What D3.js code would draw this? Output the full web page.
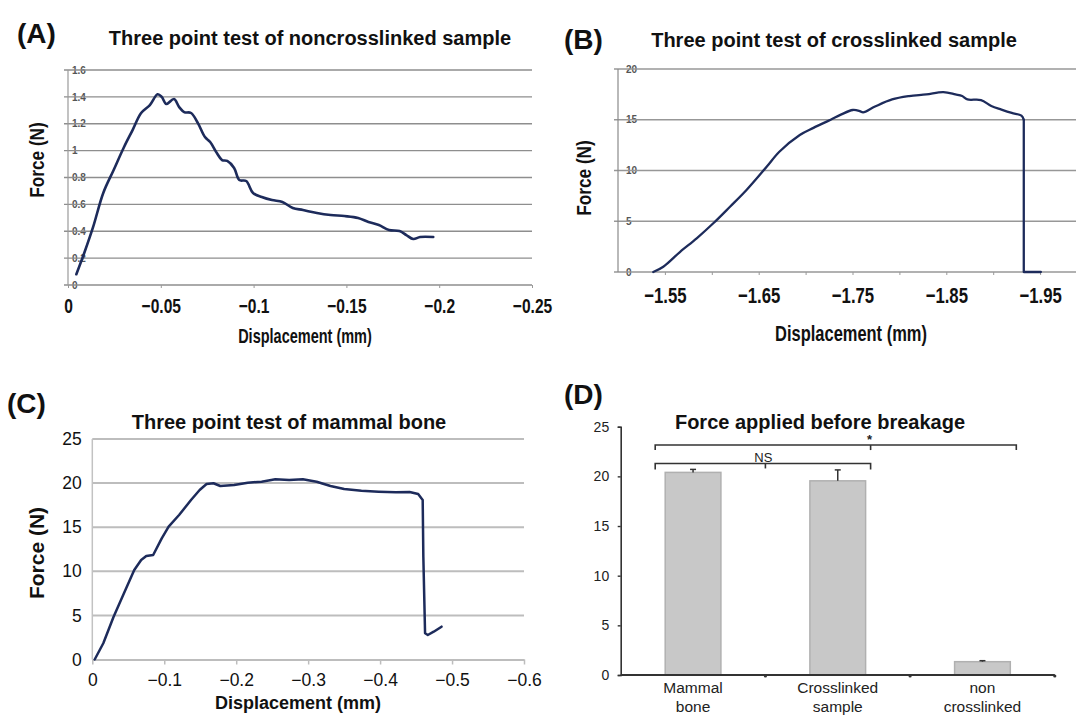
<!DOCTYPE html>
<html>
<head>
<meta charset="utf-8">
<script src="https://cdn.jsdelivr.net/npm/d3@7"></script>
<style>
  body { margin: 0; background: #fff; }
  svg { display: block; }
  text { font-family: "Liberation Sans", Arial, sans-serif; }
</style>
</head>
<body>
<div id="chart"></div>
<script>
// (A) noncrosslinked sample
const aDisp = [-0.0045,-0.0088,-0.0135,-0.019,-0.0246,-0.0302,-0.0348,-0.0394,-0.0441,-0.0483,-0.0505,-0.053,-0.0571,-0.0599,-0.0626,-0.0663,-0.07,-0.0738,-0.0766,-0.0802,-0.083,-0.0858,-0.0895,-0.0923,-0.096,-0.0997,-0.1044,-0.1099,-0.1155,-0.1211,-0.1266,-0.1341,-0.1415,-0.1489,-0.1563,-0.1619,-0.1675,-0.173,-0.1786,-0.1823,-0.186,-0.1897,-0.1968];
const aForce = [0.08,0.24,0.43,0.685,0.856,1.027,1.153,1.28,1.339,1.419,1.40,1.347,1.384,1.324,1.287,1.280,1.205,1.101,1.064,0.982,0.930,0.923,0.871,0.781,0.774,0.685,0.655,0.632,0.618,0.573,0.558,0.536,0.521,0.513,0.499,0.469,0.446,0.409,0.402,0.372,0.342,0.357,0.357];
const aYTicks = [0, 0.2, 0.4, 0.6, 0.8, 1, 1.2, 1.4, 1.6];
const aXTicks = [0, -0.05, -0.1, -0.15, -0.2, -0.25];

// (B) crosslinked sample
const bDisp = [-1.5376,-1.5483,-1.566,-1.5839,-1.6016,-1.6194,-1.637,-1.6585,-1.672,-1.6938,-1.7084,-1.7267,-1.7376,-1.7503,-1.7577,-1.7613,-1.774,-1.7922,-1.8104,-1.8287,-1.8469,-1.8597,-1.8669,-1.8725,-1.887,-1.898,-1.9088,-1.9198,-1.9301,-1.9326,-1.9326,-1.9508];
const bForce = [0,0.52,1.97,3.32,4.8,6.43,8.08,10.37,11.85,13.5,14.2,15.0,15.5,15.96,15.86,15.73,16.3,17.0,17.33,17.5,17.73,17.5,17.34,17.0,16.94,16.35,16.0,15.67,15.4,15.0,0,0];
const bYTicks = [0, 5, 10, 15, 20];
const bXTicks = [-1.55,-1.6,-1.65,-1.7,-1.75,-1.8,-1.85,-1.9,-1.95];
const bXLabels = [-1.55,-1.65,-1.75,-1.85,-1.95];

// (C) mammal bone
const cDisp = [-0.0033,-0.0153,-0.0296,-0.044,-0.0583,-0.0679,-0.075,-0.0846,-0.0965,-0.1061,-0.1206,-0.1372,-0.1492,-0.1588,-0.1684,-0.1779,-0.1971,-0.2161,-0.2353,-0.2544,-0.2736,-0.2926,-0.3118,-0.331,-0.3501,-0.374,-0.3979,-0.4218,-0.441,-0.4529,-0.4592,-0.4601,-0.4625,-0.4663,-0.4745,-0.4854];
const cForce = [0,1.84,4.85,7.5,10.15,11.28,11.73,11.85,13.74,15.06,16.38,18.08,19.22,19.9,19.98,19.67,19.78,20.05,20.16,20.43,20.35,20.43,20.16,19.67,19.33,19.14,19.03,18.96,18.99,18.76,18.08,11.66,2.97,2.78,3.15,3.72];
const cYTicks = [0, 5, 10, 15, 20, 25];
const cXTicks = [0, -0.1, -0.2, -0.3, -0.4, -0.5, -0.6];

// (D) force before breakage
const dCategories = ["Mammal bone", "Crosslinked sample", "non crosslinked"];
const dMeans = [20.4, 19.55, 1.34];
const dErrors = [0.3, 1.1, 0.1];
const dYTicks = [0, 5, 10, 15, 20, 25];

const lineColor = "#1d2b5b";
const negFmt = d => d === 0 ? "0" : "\u2212" + (+Math.abs(d).toFixed(2));

const svg = d3.select("#chart").append("svg")
    .attr("width", 1076)
    .attr("height", 715)
    .style("background", "#fff");

// squeeze text horizontally to imitate a narrow typeface
function condense(sel, f) {
    sel.each(function() {
        const len = this.getComputedTextLength();
        if (len > 0) {
            d3.select(this).attr("textLength", len * f).attr("lengthAdjust", "spacingAndGlyphs");
        }
    });
}

function addText(txt, x, y, size, opts = {}) {
    const t = svg.append("text")
        .attr("x", x)
        .attr("y", y)
        .attr("text-anchor", opts.anchor || "middle")
        .style("font-size", size + "px")
        .style("font-weight", opts.weight || "bold")
        .attr("fill", opts.fill || "#111")
        .text(txt);
    if (opts.rotate) t.attr("transform", `rotate(-90,${x},${y})`);
    if (opts.narrow) condense(t, opts.narrow);
    return t;
}

function drawCurve(pts, x, y, w, curve) {
    svg.append("path")
        .datum(pts)
        .attr("fill", "none")
        .attr("stroke", lineColor)
        .attr("stroke-width", w)
        .attr("stroke-linejoin", "round")
        .attr("stroke-linecap", "round")
        .attr("d", d3.line().x(d => x(d[0])).y(d => y(d[1])).curve(curve));
}

function gridLines(ticks, x0, x1, y, color, w) {
    svg.append("g").selectAll("line").data(ticks).join("line")
        .attr("x1", x0).attr("x2", x1)
        .attr("y1", d => y(d)).attr("y2", d => y(d))
        .attr("stroke", color).attr("stroke-width", w);
}

// ---------- Panel A ----------
{
    const x = d3.scaleLinear().domain([0, -0.25]).range([68, 532]);
    const y = d3.scaleLinear().domain([0, 1.6]).range([285, 70]);

    const yAx = svg.append("g").attr("transform", "translate(68,0)")
        .call(d3.axisRight(y).tickValues(aYTicks).tickSize(0).tickPadding(4).tickFormat(d => String(+d.toFixed(1))));
    yAx.select(".domain").remove();
    yAx.selectAll("text").style("font-size", "10px").style("font-weight", "bold").attr("fill", "#555");

    gridLines(aYTicks, 64, 532, y, "#8e8e8e", 1.4);
    svg.append("line").attr("x1", 68).attr("x2", 68).attr("y1", 70).attr("y2", 285)
        .attr("stroke", "#9a9a9a").attr("stroke-width", 1.2);

    const xAx = svg.append("g").attr("transform", "translate(0,285)")
        .call(d3.axisBottom(x).tickValues(aXTicks).tickSize(3).tickPadding(10).tickFormat(negFmt));
    xAx.select(".domain").remove();
    xAx.selectAll("line").attr("stroke", "#999");
    xAx.selectAll("text").style("font-size", "20.5px").style("font-weight", "bold").attr("fill", "#111");
    condense(xAx.selectAll("text"), 0.76);

    drawCurve(aDisp.map((d, i) => [d, aForce[i]]), x, y, 2.6, d3.curveCatmullRom.alpha(0.5));

    addText("(A)", 17, 43, 28, { anchor: "start" });
    addText("Three point test of noncrosslinked sample", 310, 45, 20);
    addText("Force (N)", 44, 160, 21, { rotate: true, narrow: 0.82 });
    addText("Displacement (mm)", 305, 342.5, 21, { narrow: 0.69 });
}

// ---------- Panel B ----------
{
    const x = d3.scaleLinear().domain([-1.5, -2.0]).range([618, 1087]);
    const y = d3.scaleLinear().domain([0, 20]).range([272, 69]);

    const yAx = svg.append("g").attr("transform", "translate(618,0)")
        .call(d3.axisRight(y).tickValues(bYTicks).tickSize(0).tickPadding(8));
    yAx.select(".domain").remove();
    yAx.selectAll("text").style("font-size", "10px").style("font-weight", "bold").attr("fill", "#555");

    gridLines(bYTicks, 614, 1076, y, "#979797", 1.4);
    svg.append("line").attr("x1", 618).attr("x2", 618).attr("y1", 69).attr("y2", 272)
        .attr("stroke", "#8a8a8a").attr("stroke-width", 1.2);

    const labelSet = new Set(bXLabels.map(d => Math.round(d * 100)));
    const xAx = svg.append("g").attr("transform", "translate(0,272)")
        .call(d3.axisBottom(x).tickValues(bXTicks).tickSize(3).tickPadding(12)
            .tickFormat(d => labelSet.has(Math.round(d * 100)) ? negFmt(d) : ""));
    xAx.select(".domain").remove();
    xAx.selectAll("line").attr("stroke", "#999");
    xAx.selectAll("text").style("font-size", "22px").style("font-weight", "bold").attr("fill", "#111");
    condense(xAx.selectAll("text"), 0.76);

    // smooth loading part, straight drop at failure
    const pts = bDisp.map((d, i) => [d, bForce[i]]);
    const failAt = bForce.indexOf(0, 1);
    drawCurve(pts.slice(0, failAt), x, y, 2.3, d3.curveCatmullRom.alpha(0.5));
    drawCurve(pts.slice(failAt - 1), x, y, 2.3, d3.curveLinear);

    addText("(B)", 564, 49, 28, { anchor: "start" });
    addText("Three point test of crosslinked sample", 834, 47, 20);
    addText("Force (N)", 591, 178, 21, { rotate: true, narrow: 0.82 });
    addText("Displacement (mm)", 851, 341, 22, { narrow: 0.748 });
}

// ---------- Panel C ----------
{
    const x = d3.scaleLinear().domain([0, -0.6]).range([92.3, 524]);
    const y = d3.scaleLinear().domain([0, 25]).range([659.5, 439]);

    gridLines(cYTicks.filter(d => d > 0), 92.3, 524, y, "#bdbdbd", 2);
    svg.append("line").attr("x1", 92.3).attr("x2", 92.3).attr("y1", 439).attr("y2", 659.5)
        .attr("stroke", "#c2c2c2").attr("stroke-width", 1.5);

    const yAx = svg.append("g").attr("transform", "translate(92.3,0)")
        .call(d3.axisLeft(y).tickValues(cYTicks).tickSize(0).tickPadding(10.5));
    yAx.select(".domain").remove();
    yAx.selectAll("text").style("font-size", "17.5px").attr("fill", "#111");

    const xAx = svg.append("g").attr("transform", "translate(0,659.5)")
        .call(d3.axisBottom(x).tickValues(cXTicks).tickSize(5).tickPadding(9.5).tickSizeOuter(0).tickFormat(negFmt));
    xAx.select(".domain").attr("stroke", "#bdbdbd").attr("stroke-width", 2);
    xAx.selectAll("line").attr("stroke", "#bdbdbd").attr("stroke-width", 1.5);
    xAx.selectAll("text").style("font-size", "17.5px").attr("fill", "#111");

    drawCurve(cDisp.map((d, i) => [d, cForce[i]]), x, y, 2.5, d3.curveLinear);

    addText("(C)", 7, 413, 28, { anchor: "start" });
    addText("Three point test of mammal bone", 289, 429, 20);
    addText("Force (N)", 44, 553, 21, { rotate: true });
    addText("Displacement (mm)", 298, 709, 18);
}

// ---------- Panel D ----------
{
    const x = d3.scaleBand().domain(dCategories).range([620.7, 1054.8])
        .paddingInner(0.615).paddingOuter(0.3075);
    const y = d3.scaleLinear().domain([0, 25]).range([675, 426.7]);
    const bw = x.bandwidth();
    const gap = x.step() - bw;

    const yAx = svg.append("g").attr("transform", "translate(620.7,0)")
        .call(d3.axisLeft(y).tickValues(dYTicks).tickSize(3).tickPadding(8.5).tickSizeOuter(3));
    yAx.select(".domain").attr("stroke", "#333").attr("stroke-width", 1.6);
    yAx.selectAll("line").attr("stroke", "#333").attr("stroke-width", 1.4);
    yAx.selectAll("text").style("font-size", "14px").attr("fill", "#222");

    svg.append("g").selectAll("rect").data(dMeans).join("rect")
        .attr("x", (d, i) => x(dCategories[i]))
        .attr("y", d => y(d))
        .attr("width", bw)
        .attr("height", d => y(0) - y(d))
        .attr("fill", "#c8c8c8")
        .attr("stroke", "#b0b0b0")
        .attr("stroke-width", 1.5);

    // error bars
    const eb = svg.append("g").attr("stroke", "#333").attr("stroke-width", 1.5);
    dMeans.forEach((m, i) => {
        const cx = x(dCategories[i]) + bw / 2;
        eb.append("line").attr("x1", cx).attr("x2", cx).attr("y1", y(m)).attr("y2", y(m + dErrors[i]));
        eb.append("line").attr("x1", cx - 3).attr("x2", cx + 3).attr("y1", y(m + dErrors[i])).attr("y2", y(m + dErrors[i]));
    });

    // x axis
    svg.append("line").attr("x1", 620.7).attr("x2", 1054.8).attr("y1", y(0)).attr("y2", y(0))
        .attr("stroke", "#333").attr("stroke-width", 2);
    svg.append("g").selectAll("circle").data(dCategories).join("circle")
        .attr("cx", d => x(d) + bw + gap / 2)
        .attr("cy", y(0) + 1)
        .attr("r", 1.6)
        .attr("fill", "#333");

    dCategories.forEach(c => {
        const cx = x(c) + bw / 2;
        const words = c.split(" ");
        addText(words[0], cx, 693, 15.5, { weight: "normal", fill: "#222" });
        addText(words[1], cx, 712, 15.5, { weight: "normal", fill: "#222" });
    });

    // significance brackets
    const left = x(dCategories[0]) - 10;
    const midR = x(dCategories[1]) + bw + 5;
    const right = x(dCategories[2]) + bw + 6;
    const yTop = y(23.15), yNs = y(21.3);
    const br = svg.append("g").attr("fill", "none").attr("stroke", "#333").attr("stroke-width", 1.6);
    br.append("path").attr("d", `M${left},${yTop + 5}V${yTop}H${right}V${yTop + 5}`);
    br.append("path").attr("d", `M${midR},${yTop}V${yTop + 5}`);
    br.append("path").attr("d", `M${left},${yNs + 6}V${yNs}H${midR}V${yNs + 6}`);
    const nsMid = x(dCategories[1]) - gap / 2;
    br.append("path").attr("d", `M${nsMid},${yNs}V${yNs + 5}`);

    addText("NS", nsMid - 2, yNs - 1.5, 13, { weight: "normal", fill: "#222" });
    addText("*", midR - 1, yTop - 1, 13, { fill: "#222" });

    addText("(D)", 564, 404, 28, { anchor: "start" });
    addText("Force applied before breakage", 820, 429, 20);
}
</script>
</body>
</html>
